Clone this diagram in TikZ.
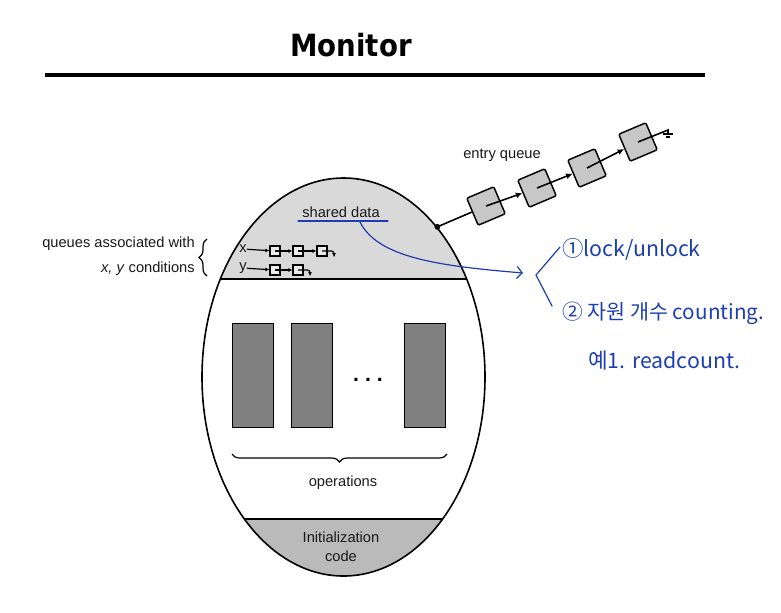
\documentclass[tikz,border=0pt]{standalone}
\usepackage{fontspec}
\setmainfont{Liberation Sans}
\newfontfamily\titlefont{DejaVu Sans Condensed}
\newfontfamily\cjk{Noto Sans CJK KR}
\usetikzlibrary{shapes.geometric,arrows.meta,positioning,decorations.pathreplacing,calc}
\definecolor{ink}{RGB}{25,25,25}
\definecolor{pen}{RGB}{28,62,178}

\begin{document}
\begin{tikzpicture}[
  x=0.75pt, y=-0.75pt,
  label/.style={font=\fontsize{11}{14}\selectfont, text=ink, inner sep=0pt, align=center},
  opbox/.style={rectangle, draw, fill=black!50, minimum width=31pt, minimum height=78pt},
  qbox/.style={rectangle, draw, line width=1.1pt, fill=black!22, rounded corners=1pt, minimum size=22pt, rotate=23},
  cbox/.style={rectangle, draw, line width=0.9pt, fill=black!8, minimum size=7.5pt, inner sep=0pt},
  ptr/.style={-{Latex[length=3pt,width=3pt]}, line width=0.9pt},
  eptr/.style={-{Latex[length=5pt,width=4.5pt]}, line width=1.2pt},
  brc/.style={decorate, decoration={brace, amplitude=6pt}, line width=0.9pt},
  hand/.style={font=\cjk\fontsize{16}{18}\selectfont, text=pen, anchor=west, inner sep=0pt},
  pen line/.style={draw=pen, line width=0.9pt, line cap=round, line join=round}
]
  \useasboundingbox (0,0) rectangle (781,612);

  \node[font=\titlefont\bfseries\fontsize{23}{26}\selectfont] (title) at (351,45) {Monitor};
  \draw[line width=2.4pt] (45,75) -- (705,75);

  \begin{scope}
    \clip (343.5,377) ellipse [x radius=106.1pt, y radius=149.25pt];
    \fill[black!15] (0,0) rectangle (781,279);
    \fill[black!27] (0,519) rectangle (781,612);
    \draw[line width=1.4pt] (0,279) -- (781,279);
    \draw[line width=1.4pt] (0,519) -- (781,519);
  \end{scope}
  \node[ellipse, draw, line width=1.2pt, minimum width=212.25pt, minimum height=298.5pt] (mon) at (343.5,377) {};

  \node[label] (sd) at (341,212) {shared data};
  \draw[pen line] (298,221) coordinate (ul) -- (388,221) coordinate (ur);

  \node[label] (xl) at (243,249) {x};
  \node[cbox] (xq1) at (275,251) {};
  \node[cbox] (xq2) at (298,251) {};
  \node[cbox] (xq3) at (322,251) {};
  \node[label] (yl) at (243,268) {y};
  \node[cbox] (yq1) at (275,270) {};
  \node[cbox] (yq2) at (298,270) {};
  \coordinate (xend) at (334,257);
  \coordinate (yend) at (310,276);
  \draw[ptr] (xl) -- (xq1);
  \draw[ptr] (xq1.center) -- (xq2);
  \draw[ptr] (xq2.center) -- (xq3);
  \draw[ptr, rounded corners=2pt] (xq3.center) -| (xend);
  \draw[ptr] (yl) -- (yq1);
  \draw[ptr] (yq1.center) -- (yq2);
  \draw[ptr, rounded corners=2pt] (yq2.center) -| (yend);

  \node[label, align=right, anchor=east, font=\fontsize{11}{18.5}\selectfont] (ql) at (195,256) {queues associated with\\\textit{x, y} conditions};
  \draw[brc] (207,276) -- (207,239);

  \node[opbox] (op1) at (252.5,375) {};
  \node[opbox] (op2) at (311.5,375) {};
  \node[opbox] (op3) at (425,375) {};
  \node[font=\bfseries\fontsize{16}{16}\selectfont] (dots) at (368,380) {.\ .\ .};
  \draw[brc] (447,454) -- (232,454);
  \node[label] (ops) at (343,483) {operations};
  \node[label] (init) at (341,547) {Initialization\\code};

  \node[qbox] (b1) at (486,206) {};
  \node[qbox] (b2) at (537,188) {};
  \node[qbox] (b3) at (587,168) {};
  \node[qbox] (b4) at (638,142) {};
  \node[label] (eq) at (502,155) {entry queue};
  \coordinate (ent) at (mon.58);
  \coordinate (gnd) at (668,130);
  \fill (ent) circle (2.2pt);
  \draw[line width=1.2pt] (ent) -- (b1);
  \draw[eptr] (b1.center) -- (b2);
  \draw[eptr] (b2.center) -- (b3);
  \draw[eptr] (b3.center) -- (b4);
  \draw[line width=1.2pt] (b4.center) -- (gnd) -- ++(0,4);
  \draw[line width=1pt] (663,134) -- (673,134);
  \draw[line width=1pt] (666,137) -- (670,137);

  \coordinate (cs) at (360,222);
  \coordinate (ce) at (523,273);
  \draw[pen line, -{Straight Barb[length=4pt,width=9pt]}] (cs) .. controls (378,258) and (440,266) .. (ce);
  \coordinate (kt) at (560,247);
  \coordinate (kv) at (536,275);
  \coordinate (kb) at (552,306);
  \draw[pen line] (kt) -- (kv) -- (kb);
  \node[hand] (h1) at (562,249) {①lock/unlock};
  \node[hand, font=\cjk\fontsize{15.5}{18}\selectfont] (h2) at (562,313) {② 자원 개수 counting.};
  \node[hand] (h3) at (588,360) {예1. readcount.};
\end{tikzpicture}
\end{document}
